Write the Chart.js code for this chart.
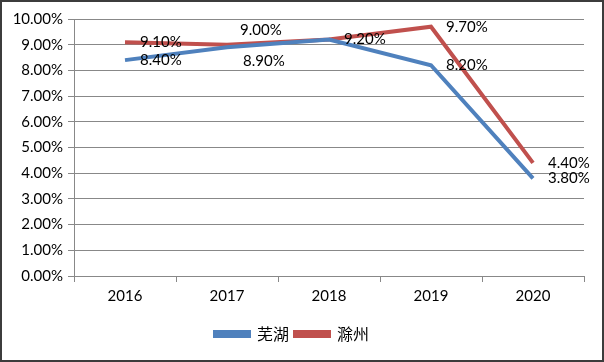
<!DOCTYPE html>
<html>
<head>
<meta charset="utf-8">
<script src="https://cdn.jsdelivr.net/npm/chart.js@4/dist/chart.umd.min.js"></script>
<style>
  html, body { margin: 0; padding: 0; background: #fff; }
  #wrap { position: relative; width: 604px; height: 362px; }
</style>
</head>
<body>
<div id="wrap"><canvas id="chart" width="604" height="362"></canvas></div>
<script>
const years = ['2016', '2017', '2018', '2019', '2020'];
const wuhu = [8.4, 8.9, 9.2, 8.2, 3.8];
const chuzhou = [9.1, 9.0, 9.2, 9.7, 4.4];

// where each value label sits relative to its point
const wuhuLabelPos = ['right', 'below', 'none', 'right', 'right'];
const chuzhouLabelPos = ['right', 'above', 'right', 'right', 'right'];

const labelPlugin = {
    id: 'valueLabels',
    afterDatasetsDraw(chart) {
        const ctx = chart.ctx;
        ctx.save();
        ctx.font = '15px Lato';
        ctx.fillStyle = '#000';
        ctx.textAlign = 'left';
        ctx.textBaseline = 'middle';
        chart.data.datasets.forEach((ds, i) => {
            const meta = chart.getDatasetMeta(i);
            meta.data.forEach((pt, j) => {
                const pos = ds.labelPos[j];
                if (pos === 'none') return;
                let dx = 15, dy = 0;
                if (pos === 'above') { dx = 13; dy = -15; }
                if (pos === 'below') { dx = 16; dy = 14; }
                ctx.fillText(ds.data[j].toFixed(2) + '%', pt.x + dx, pt.y + dy);
            });
        });
        ctx.restore();
    }
};

const framePlugin = {
    id: 'frame',
    afterDraw(chart) {
        const ctx = chart.ctx;
        ctx.save();
        ctx.strokeStyle = '#3c3c3c';
        ctx.lineWidth = 2;
        ctx.strokeRect(1, 1, chart.width - 2, chart.height - 2);
        ctx.restore();
    }
};

new Chart(document.getElementById('chart'), {
    type: 'line',
    data: {
        labels: years,
        datasets: [
            {
                label: '芜湖',
                data: wuhu,
                labelPos: wuhuLabelPos,
                borderColor: '#4f81bd',
                backgroundColor: '#4f81bd',
                borderWidth: 4,
                pointRadius: 0,
                tension: 0
            },
            {
                label: '滁州',
                data: chuzhou,
                labelPos: chuzhouLabelPos,
                borderColor: '#c0504d',
                backgroundColor: '#c0504d',
                borderWidth: 4,
                pointRadius: 0,
                tension: 0
            }
        ]
    },
    options: {
        responsive: false,
        animation: false,
        layout: { padding: { top: 19, right: 20, bottom: 10, left: 0 } },
        scales: {
            x: {
                offset: true,
                grid: {
                    offset: true,
                    drawOnChartArea: false,
                    drawTicks: true,
                    tickLength: 6,
                    color: '#888'
                },
                border: { color: '#888' },
                ticks: { color: '#000', font: { family: 'Lato', size: 15 }, padding: 5 },
                afterFit: scale => { scale.height = 44; }
            },
            y: {
                min: 0,
                max: 10,
                grid: { color: '#888', tickLength: 6 },
                border: { color: '#888' },
                ticks: {
                    stepSize: 1,
                    color: '#000',
                    font: { family: 'Lato', size: 15 },
                    padding: 5,
                    callback: v => v.toFixed(2) + '%'
                },
                afterFit: scale => { scale.width = 74; }
            }
        },
        plugins: {
            legend: {
                position: 'bottom',
                labels: {
                    boxWidth: 34,
                    boxHeight: 4,
                    padding: 6,
                    color: '#000',
                    font: { family: 'Noto Sans CJK SC', size: 16 }
                }
            },
            tooltip: { enabled: false }
        }
    },
    plugins: [labelPlugin, framePlugin]
});
</script>
</body>
</html>
